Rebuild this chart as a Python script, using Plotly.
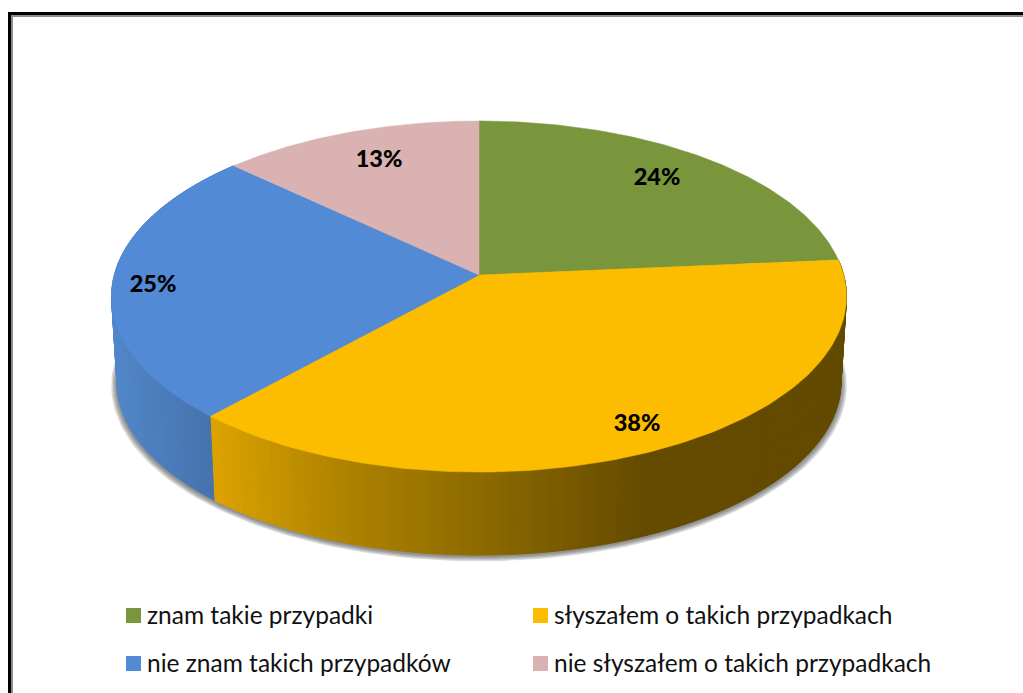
import numpy as np
import plotly.graph_objects as go

categories = ['znam takie przypadki', 'słyszałem o takich przypadkach',
              'nie znam takich przypadków', 'nie słyszałem o takich przypadkach']
values = [23.6, 38.1, 25.3, 13.0]
colors = ['#7A963C', '#FCBD00', '#538AD6', '#DAB2B2']

label_x = [657, 637, 153, 379]
label_y = [179, 425, 286, 161]
legend_x = [133.5, 540.5, 133.5, 540.5]
legend_y = [615.5, 615.5, 663.5, 663.5]

# pie geometry, perspective tilt makes the circle an off centre ellipse
CX, CY = 479, 275
RX, RY, TILT = 364.7, 172.9, 0.1225
BOTTOM_CY, BOTTOM_SCALE = 361, 0.985


def project(turn, r=1.0, cy=CY, scale=1.0):
    a = 2 * np.pi * np.asarray(turn)
    u, v = r * np.sin(a), r * np.cos(a)
    d = 1 + TILT * v
    return CX + scale * RX * u / d, cy - scale * RY * v / d


def lerp_color(x, stops):
    xs = [s[0] for s in stops]
    return 'rgb(%d,%d,%d)' % tuple(np.interp(x, xs, [s[1][i] for s in stops]) for i in range(3))


orange_side = [(209, (222, 164, 0)), (340, (176, 132, 0)), (480, (142, 107, 0)),
               (640, (102, 76, 0)), (850, (98, 74, 0))]
blue_side = [(110, (82, 136, 204)), (214, (70, 114, 172))]

fracs = np.cumsum([0] + values) / sum(values)

fig = go.Figure()

# soft shadow under the pie
for grow, dy in [(1.016, 3), (1.012, 2.5), (1.008, 2), (1.004, 1.5)]:
    t = np.linspace(0, 1, 241)
    x, y = project(t, cy=BOTTOM_CY + dy, scale=BOTTOM_SCALE * grow)
    fig.add_trace(go.Scatter(x=x, y=y, mode='lines', fill='toself', line_width=0,
                             fillcolor='rgba(70,70,70,0.2)', hoverinfo='skip'))

# side wall, drawn as thin strips so the colour can run from left to right
for start, end, stops in [(fracs[1], fracs[2], orange_side), (fracs[2], fracs[3], blue_side)]:
    edges = np.linspace(start, end, int((end - start) * 320) + 2)
    for a, b in zip(edges[:-1], edges[1:]):
        seg = np.linspace(a, b, 4)
        xt, yt = project(seg)
        xb, yb = project(seg, cy=BOTTOM_CY, scale=BOTTOM_SCALE)
        x = np.r_[xt, xb[::-1], xt[0]]
        y = np.r_[yt, yb[::-1], yt[0]]
        col = lerp_color(x.mean(), stops)
        fig.add_trace(go.Scatter(x=x, y=y, mode='lines', fill='toself', line=dict(color=col, width=1),
                                 fillcolor=col, hoverinfo='skip'))

# top faces
for i, name in enumerate(categories):
    t = np.linspace(fracs[i], fracs[i + 1], 120)
    x, y = project(t)
    fig.add_trace(go.Scatter(x=np.r_[CX, x, CX], y=np.r_[CY, y, CY], mode='lines', fill='toself',
                             line=dict(color=colors[i], width=0.5), fillcolor=colors[i], name=name,
                             hoverinfo='name'))

# percent labels
fig.add_trace(go.Scatter(x=label_x, y=label_y, mode='text', text=['%d%%' % round(v) for v in values],
                         textposition='middle center', hoverinfo='skip',
                         textfont=dict(family='Lato', size=23.5, color='black', weight=900)))

# legend, set by hand since the plotly one can't space rows this far apart
for i, name in enumerate(categories):
    fig.add_trace(go.Scatter(x=[legend_x[i]], y=[legend_y[i]], mode='markers', hoverinfo='skip',
                             marker=dict(symbol='square', size=15, color=colors[i], line_width=0)))
    fig.add_trace(go.Scatter(x=[legend_x[i] + 13.5], y=[legend_y[i] + 2], mode='text', text=[name],
                             textposition='middle right', hoverinfo='skip',
                             textfont=dict(family='Lato', size=24.5, color='#111111')))

# frame round the picture, runs off the right and bottom
fig.add_shape(type='line', x0=9.5, x1=9.5, y0=13, y1=700, line=dict(color='black', width=3))
fig.add_shape(type='line', x0=8, x1=1030, y0=13.5, y1=13.5, line=dict(color='black', width=3))
fig.add_shape(type='line', x0=12, x1=12, y0=15, y1=700, line=dict(color='#8c8c8c', width=2))
fig.add_shape(type='line', x0=11, x1=1030, y0=16, y1=16, line=dict(color='#8c8c8c', width=2))

fig.update_layout(width=1023, height=693, margin=dict(l=0, r=0, t=0, b=0), showlegend=False,
                  paper_bgcolor='white', plot_bgcolor='white',
                  xaxis=dict(range=[0, 1023], visible=False, fixedrange=True),
                  yaxis=dict(range=[693, 0], visible=False, fixedrange=True))

fig.write_html("out.html", config={'displayModeBar': False},
               post_script="document.body.style.margin='0';document.body.style.overflow='hidden';")
